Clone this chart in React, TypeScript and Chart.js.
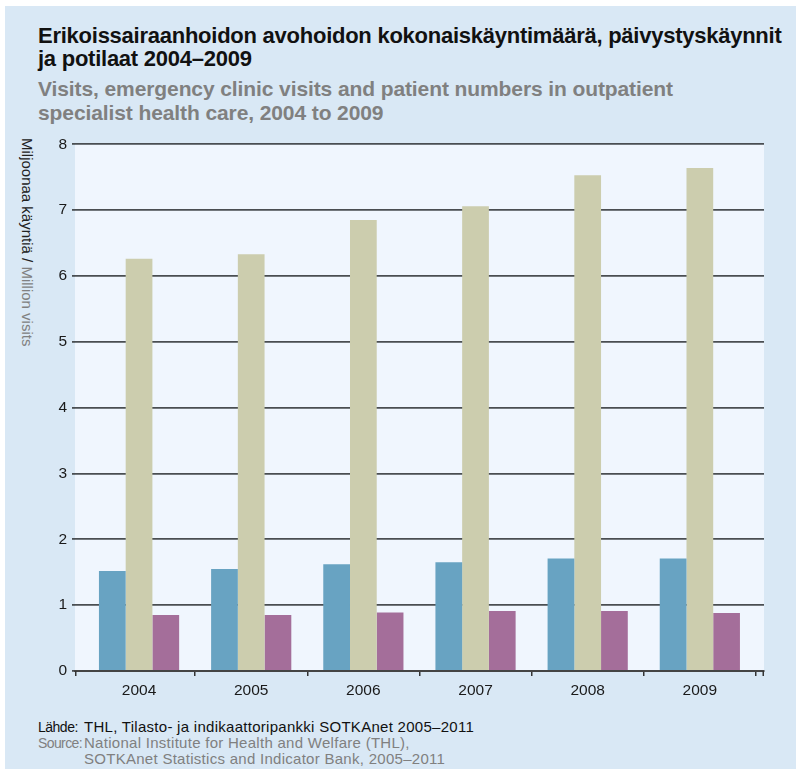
import React, { useEffect, useRef } from "react";
import { Chart, registerables } from "chart.js";

Chart.register(...registerables);

const years = ["2004", "2005", "2006", "2007", "2008", "2009"];
const patients = [1.52, 1.55, 1.62, 1.65, 1.71, 1.71];
const visits = [6.26, 6.33, 6.85, 7.06, 7.53, 7.64];
const emergencyVisits = [0.85, 0.85, 0.89, 0.91, 0.91, 0.88];
const yTicks = [0, 1, 2, 3, 4, 5, 6, 7, 8];

const FONT = "'Liberation Sans', 'DejaVu Sans', sans-serif";

const plotBg = {
  id: "plotBg",
  beforeDraw(chart: any) {
    const { ctx, chartArea } = chart;
    if (!chartArea) return;
    ctx.save();
    ctx.fillStyle = "#f0f6fe";
    ctx.fillRect(chartArea.left, chartArea.top, chartArea.right - chartArea.left, chartArea.bottom - chartArea.top);
    ctx.restore();
  },
  afterDraw(chart: any) {
    // end tick marks of the x axis at both ends of the plot area
    const { ctx, chartArea } = chart;
    if (!chartArea) return;
    ctx.save();
    ctx.strokeStyle = "#333";
    ctx.lineWidth = 1.5;
    ctx.beginPath();
    for (const x of [chartArea.left + 0.75, chartArea.right - 0.75]) {
      ctx.moveTo(x, chartArea.bottom);
      ctx.lineTo(x, chartArea.bottom + 5);
    }
    ctx.stroke();
    ctx.restore();
  },
};

function BarChart() {
  const ref = useRef<HTMLCanvasElement | null>(null);
  useEffect(() => {
    if (!ref.current) return;
    const chart = new Chart(ref.current, {
      type: "bar",
      data: {
        labels: years,
        datasets: [
          { label: "Potilaat / Patients", data: patients, backgroundColor: "#68a3c2" },
          { label: "Käynnit / Visits", data: visits, backgroundColor: "#cccdae" },
          { label: "Päivystyskäynnit / Emergency clinic visits", data: emergencyVisits, backgroundColor: "#a46e9a" },
        ],
      },
      plugins: [plotBg],
      options: {
        animation: false,
        responsive: false,
        devicePixelRatio: 1,
        layout: { padding: { left: 0, right: 16, top: 13, bottom: 0 } },
        datasets: { bar: { categoryPercentage: 0.715, barPercentage: 1.0, borderWidth: 0 } },
        plugins: { legend: { display: false }, tooltip: { enabled: false }, title: { display: false } },
        scales: {
          x: {
            afterBuildTicks(scale: any) {
              // slightly inset the category band inside the plot area
              scale._startValue = -0.571;
              scale._valueRange = 6.143;
            },
            grid: {
              drawOnChartArea: false,
              drawTicks: true,
              tickLength: 5,
              color: (c: any) => (c.index === 0 || c.index === years.length ? "rgba(0,0,0,0)" : "#333"),
              lineWidth: 1.5,
            },
            border: { display: true, color: "#444", width: 2 },
            ticks: { color: "#1a1a1a", font: { family: FONT, size: 15.5 }, padding: 5 },
            afterFit(scale: any) { scale.height = 39; },
          },
          y: {
            min: 0,
            max: 8,
            afterBuildTicks(scale: any) { scale.ticks = yTicks.map((v) => ({ value: v })); },
            grid: { color: "#4a4e52", lineWidth: 1.8, drawTicks: true, tickLength: 3 },
            border: { display: false },
            ticks: { color: "#1a1a1a", font: { family: FONT, size: 15.5 }, padding: 5 },
            afterFit(scale: any) { scale.width = 35; },
          },
        },
      },
    });
    return () => chart.destroy();
  }, []);
  return <canvas ref={ref} width={740} height={580} style={{ width: 740, height: 580, display: "block" }} />;
}

const titleLine = (top: number, size: number, spacing: number, color: string): React.CSSProperties => ({
  position: "absolute",
  left: 38,
  top,
  fontFamily: FONT,
  fontWeight: "bold",
  fontSize: size,
  lineHeight: "24px",
  letterSpacing: spacing,
  color,
  whiteSpace: "nowrap",
});

export default function App() {
  return (
    <div style={{ position: "absolute", left: 0, top: 0, width: 796, height: 772, background: "#ffffff", overflow: "hidden" }}>
      <div style={{ position: "absolute", left: 5, top: 6, width: 791, height: 763, background: "#d9e8f5" }} />
      <div style={titleLine(24, 22, -0.25, "#111")}>Erikoissairaanhoidon avohoidon kokonaiskäyntimäärä, päivystyskäynnit</div>
      <div style={titleLine(47, 22, -0.25, "#111")}>ja potilaat 2004–2009</div>
      <div style={titleLine(77, 21, -0.1, "#808080")}>Visits, emergency clinic visits and patient numbers in outpatient</div>
      <div style={titleLine(101, 21, -0.1, "#808080")}>specialist health care, 2004 to 2009</div>
      <div style={{ position: "absolute", left: 19, top: 138, writingMode: "vertical-rl", fontFamily: FONT, fontSize: 15, lineHeight: "16px", whiteSpace: "nowrap" }}>
        <span style={{ color: "#222" }}>Miljoonaa käyntiä / </span>
        <span style={{ color: "#808080" }}>Million visits</span>
      </div>
      <div style={{ position: "absolute", left: 40, top: 130 }}>
        <BarChart />
      </div>
      <div style={{ position: "absolute", left: 38, top: 719, fontFamily: FONT, lineHeight: "16px", whiteSpace: "nowrap" }}>
        <div style={{ display: "flex", color: "#111" }}>
          <span style={{ width: 46, flexShrink: 0, fontSize: 14, letterSpacing: -0.5 }}>Lähde:</span>
          <span style={{ fontSize: 15, letterSpacing: 0.28 }}>THL, Tilasto- ja indikaattoripankki SOTKAnet 2005–2011</span>
        </div>
        <div style={{ display: "flex", color: "#808080" }}>
          <span style={{ width: 46, flexShrink: 0, fontSize: 14, letterSpacing: -0.6 }}>Source:</span>
          <span style={{ fontSize: 15, letterSpacing: 0.28 }}>National Institute for Health and Welfare (THL),<br />SOTKAnet Statistics and Indicator Bank, 2005–2011</span>
        </div>
      </div>
    </div>
  );
}
